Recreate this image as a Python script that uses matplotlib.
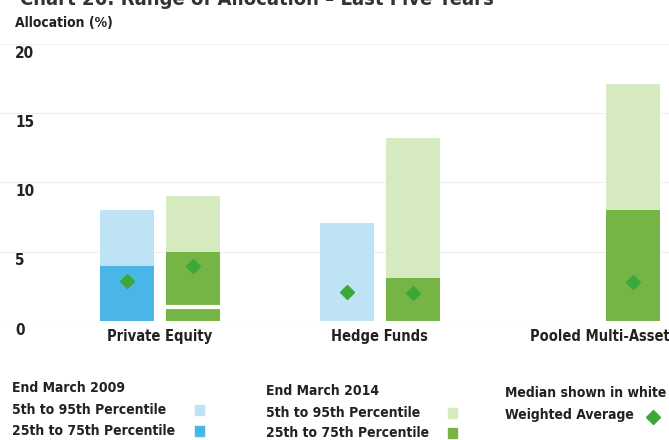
import matplotlib.pyplot as plt
from matplotlib.patches import Rectangle
from matplotlib.lines import Line2D

plt.rcParams['font.family'] = ['Noto Sans Condensed', 'DejaVu Sans']
plt.rcParams['font.stretch'] = 'condensed'

# data (allocation, %)
categories = ['Private Equity', 'Hedge Funds', 'Pooled Multi-Asset']
p5_95_2009 = [8.0, 7.1, None]
p25_75_2009 = [4.0, 0.0, None]
median_2009 = [None, None, None]
avg_2009 = [2.9, 2.1, None]

p5_95_2014 = [9.0, 13.2, 17.1]
p25_75_2014 = [5.0, 3.1, 8.0]
median_2014 = [1.0, None, None]
avg_2014 = [4.0, 2.0, 2.8]

yticks = [0, 5, 10, 15, 20]

light_blue = '#bde3f4'
blue = '#49b6e7'
light_green = '#d6eac0'
green = '#74b545'
diamond = '#3da83a'

W, H = 669, 440
fig = plt.figure(figsize=(W / 100, H / 100), dpi=100)
ax = fig.add_axes([0, 1 - 321 / H, 1, (321 - 44) / H])
ax.set_xlim(-0.727, 2.314)
ax.set_ylim(0, 20)
ax.axis('off')

# faint grid lines
for t in yticks:
    ax.axhline(t, color='#f0f0f0', lw=0.8, zorder=0)
    ax.text(15 / W, t - 0.65, str(t), transform=ax.get_yaxis_transform(),
            ha='left', va='center', fontsize=11, fontweight='bold', color='#222222')

offset = 0.15
width = 0.245
series = [
    (-offset, p5_95_2009, p25_75_2009, median_2009, avg_2009, light_blue, blue),
    (offset, p5_95_2014, p25_75_2014, median_2014, avg_2014, light_green, green),
]
for dx, outer, inner, med, avg, c_out, c_in in series:
    for i in range(len(categories)):
        if outer[i] is None:
            continue
        x = i + dx
        ax.bar(x, outer[i], width=width, color=c_out, zorder=1)
        if inner[i]:
            ax.bar(x, inner[i], width=width, color=c_in, zorder=2)
        if med[i] is not None:
            ax.hlines(med[i], x - width / 2, x + width / 2, color='white', lw=3, zorder=3)
        ax.plot(x, avg[i], marker='D', ms=7, color=diamond, zorder=4)

for i, c in enumerate(categories):
    ax.text(i, -1.1, c, ha='center', va='center', fontsize=10.5, fontweight='bold',
            color='#222222')

# titles (the top of the title is cut off in the original)
fig.text(20 / W, 1 - 5 / H, 'Chart 26: Range of Allocation \u2013 Last Five Years',
         ha='left', va='baseline', fontsize=14.5, fontweight='bold', color='#333333')
fig.text(15 / W, 1 - 23 / H, 'Allocation (%)', ha='left', va='center',
         fontsize=10, fontweight='bold', color='#222222')

# legend drawn by hand
def ltext(x, y, s):
    fig.text(x / W, 1 - y / H, s, ha='left', va='center', fontsize=10,
             fontweight='bold', color='#222222')

def swatch(x, y, c):
    fig.add_artist(Rectangle((x / W, 1 - (y + 5) / H), 9 / W, 10 / H,
                             transform=fig.transFigure, color=c))

ltext(12, 388, 'End March 2009')
ltext(12, 410, '5th to 95th Percentile')
ltext(12, 431, '25th to 75th Percentile')
swatch(195, 410, light_blue)
swatch(195, 431, blue)

ltext(266, 391, 'End March 2014')
ltext(266, 413, '5th to 95th Percentile')
ltext(266, 433, '25th to 75th Percentile')
swatch(448, 413, light_green)
swatch(448, 433, green)

ltext(505, 393, 'Median shown in white')
ltext(505, 415, 'Weighted Average')
fig.add_artist(Line2D([653 / W], [1 - 417 / H], marker='D', ms=7, color=diamond,
                      transform=fig.transFigure))

fig.savefig('out.png', dpi=100)
